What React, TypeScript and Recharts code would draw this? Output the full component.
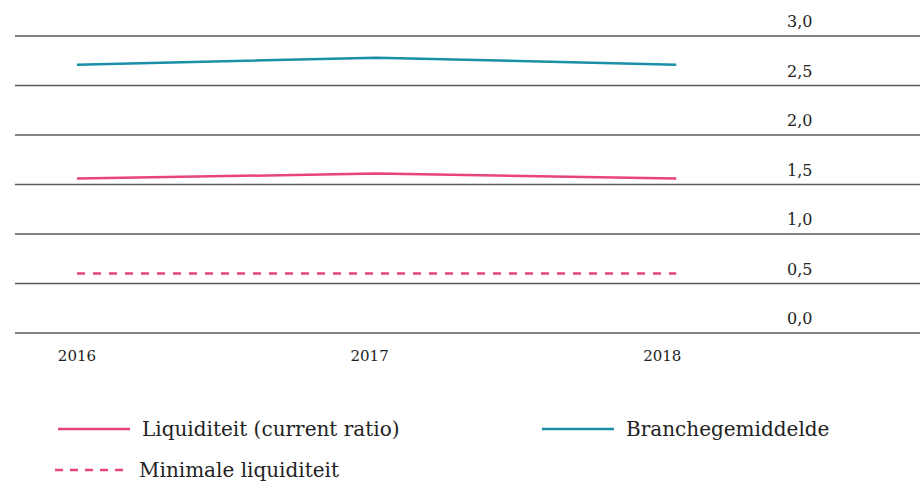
import { LineChart, Line, XAxis, YAxis, CartesianGrid } from 'recharts';

const years = [2016, 2017, 2018];
const liquiditeit = [1.56, 1.61, 1.56];
const branche = [2.71, 2.78, 2.71];
const minimaal = [0.6, 0.6, 0.6];
const yTicks = [0, 0.5, 1, 1.5, 2, 2.5, 3];

const PINK = '#e8437a';
const TEAL = '#1a8fa8';
const FONT = '"DejaVu Serif", serif';

const data = years.map((year, i) => ({
  year,
  liquiditeit: liquiditeit[i],
  branche: branche[i],
  minimaal: minimaal[i]
}));

const formatTick = (v: number) => v.toFixed(1).replace('.', ',');

function YTick({ y, payload }: any) {
  return (
    <text x={787} y={y - 9} fill="#222" fontSize={16} fontFamily={FONT}>
      {formatTick(payload.value)}
    </text>
  );
}

function XTick({ x, y, payload, index }: any) {
  return (
    <text x={x - index * 7} y={y + 20} fill="#222" fontSize={15} fontFamily={FONT} textAnchor="middle">
      {payload.value}
    </text>
  );
}

function LegendItem({ left, top, color, dashed, label }: { left: number; top: number; color: string; dashed?: boolean; label: string }) {
  return (
    <div style={{ position: 'absolute', left, top, display: 'flex', alignItems: 'center' }}>
      <svg width={74} height={6} style={{ marginRight: 11 }}>
        <line x1={1} y1={3} x2={73} y2={3} stroke={color} strokeWidth={2.5} strokeDasharray={dashed ? '8 7' : undefined} />
      </svg>
      <span style={{ fontFamily: FONT, fontSize: 20, color: '#222', lineHeight: '24px' }}>{label}</span>
    </div>
  );
}

export default function App() {
  return (
    <div style={{ position: 'absolute', left: 0, top: 0, width: 921, height: 483, background: '#fff' }}>
      <LineChart width={921} height={483} data={data} margin={{ top: 36, right: 0, left: 15, bottom: 120 }}>
        <CartesianGrid vertical={false} stroke="#5a5a5a" strokeWidth={1.5} />
        <XAxis
          dataKey="year"
          type="number"
          domain={[2015.7933, 2018.8133]}
          ticks={years}
          axisLine={false}
          tickLine={false}
          height={30}
          tick={<XTick />}
        />
        <YAxis
          orientation="right"
          domain={[0, 3]}
          ticks={yTicks}
          width={1}
          interval={0}
          axisLine={false}
          tickLine={false}
          tick={<YTick />}
        />
        <Line dataKey="branche" stroke={TEAL} strokeWidth={2.5} dot={false} isAnimationActive={false} />
        <Line dataKey="liquiditeit" stroke={PINK} strokeWidth={2.5} dot={false} isAnimationActive={false} />
        <Line dataKey="minimaal" stroke={PINK} strokeWidth={2.5} strokeDasharray="8 8" dot={false} isAnimationActive={false} />
      </LineChart>
      <LegendItem left={57} top={417} color={PINK} label="Liquiditeit (current ratio)" />
      <LegendItem left={541} top={417} color={TEAL} label="Branchegemiddelde" />
      <LegendItem left={54} top={458} color={PINK} dashed label="Minimale liquiditeit" />
    </div>
  );
}
